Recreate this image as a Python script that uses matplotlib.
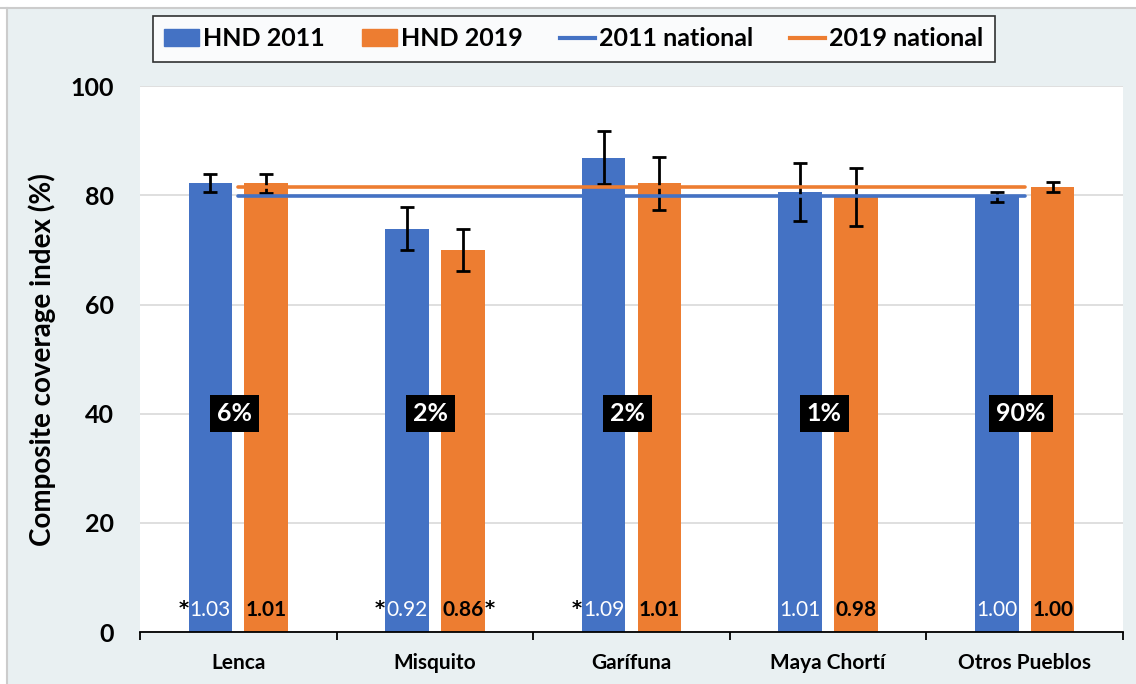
import matplotlib
matplotlib.use('Agg')
import matplotlib.pyplot as plt
import matplotlib.patches as patches
from matplotlib.lines import Line2D
import numpy as np

# Data
groups = ['Lenca', 'Misquito', 'Garífuna', 'Maya Chortí', 'Otros Pueblos']
cci_2011 = [82.3, 73.9, 86.9, 80.6, 79.7]
err_2011 = [1.7, 3.9, 4.9, 5.3, 0.85]
cci_2019 = [82.2, 70.0, 82.2, 79.7, 81.6]
err_2019 = [1.7, 3.9, 4.9, 5.3, 0.9]
national_2011 = 79.8
national_2019 = 81.5
pop_share = ['6%', '2%', '2%', '1%', '90%']
ratio_2011 = ['1.03', '0.92', '1.09', '1.01', '1.00']
ratio_2019 = ['1.01', '0.86', '1.01', '0.98', '1.00']
sig_2011 = [True, True, True, False, False]
sig_2019 = [False, True, False, False, False]

blue = '#4472C4'
orange = '#ED7D31'
font = ['Lato', 'DejaVu Sans']
plt.rcParams['font.family'] = font

fig = plt.figure(figsize=(11.36, 6.84), dpi=100)
fig.patch.set_facecolor('#E9F0F2')
# white frame strips at top/left like the original screenshot
fig.patches.append(patches.Rectangle((0, 0.99), 1, 0.01, transform=fig.transFigure,
                                     facecolor='white', edgecolor='none'))
fig.patches.append(patches.Rectangle((0, 0), 0.006, 1, transform=fig.transFigure,
                                     facecolor='white', edgecolor='none'))
fig.add_artist(Line2D([0, 1], [0.989, 0.989], transform=fig.transFigure, color='#CCCCCC', lw=1.5))
fig.add_artist(Line2D([0.0065, 0.0065], [0, 0.989], transform=fig.transFigure, color='#CCCCCC', lw=1.5))

ax = fig.add_axes([0.1232, 0.076, 0.8654, 0.798])
ax.set_facecolor('white')

x = np.arange(len(groups))
w = 0.221
off = 0.142

ax.bar(x - off, cci_2011, w, color=blue, zorder=2)
ax.bar(x + off, cci_2019, w, color=orange, zorder=2)
ax.errorbar(x - off, cci_2011, yerr=err_2011, fmt='none', ecolor='black',
            elinewidth=2, capsize=5, capthick=2, zorder=3)
ax.errorbar(x + off, cci_2019, yerr=err_2019, fmt='none', ecolor='black',
            elinewidth=2, capsize=5, capthick=2, zorder=3)

ax.plot([x[0], x[-1]], [national_2011, national_2011], color=blue, lw=2.6, zorder=4,
        solid_capstyle='round')
ax.plot([x[0], x[-1]], [national_2019, national_2019], color=orange, lw=2.6, zorder=4,
        solid_capstyle='round')

# population share boxes
for i, s in enumerate(pop_share):
    ax.text(x[i] - 0.02, 40, s, ha='center', va='center', color='white', fontsize=18,
            fontweight='bold', zorder=5,
            bbox=dict(facecolor='black', edgecolor='none', pad=5))

# ratio labels at the bottom of bars
for i in range(len(groups)):
    ax.text(x[i] - off, 4, ratio_2011[i], ha='center', va='center', color='white',
            fontsize=15, zorder=5)
    ax.text(x[i] + off, 4, ratio_2019[i], ha='center', va='center', color='black',
            fontsize=15, fontweight='bold', zorder=5)
    if sig_2011[i]:
        ax.text(x[i] - off - w / 2, 4.3, '*', ha='right', va='center', color='black',
                fontsize=14, fontweight='bold', family='DejaVu Sans', zorder=5)
    if sig_2019[i]:
        ax.text(x[i] + off + w / 2, 4.3, '*', ha='left', va='center', color='black',
                fontsize=14, fontweight='bold', family='DejaVu Sans', zorder=5)

ax.set_xlim(-0.5, len(groups) - 0.5)
ax.set_ylim(0, 100)
ax.set_yticks([0, 20, 40, 60, 80, 100])
ax.yaxis.grid(True, color='#D9D9D9', lw=1.2, zorder=0)
ax.set_axisbelow(True)
for side in ['left', 'right', 'top']:
    ax.spines[side].set_visible(False)
ax.spines['bottom'].set_linewidth(1.3)

ax.set_xticks(x)
ax.set_xticklabels(groups, fontsize=15, fontweight='bold')
ax.set_xticks(np.arange(-0.5, len(groups), 1.0), minor=True)
ax.tick_params(axis='x', which='major', length=0, pad=15)
ax.tick_params(axis='x', which='minor', length=6, width=1.3, direction='out')
ax.tick_params(axis='y', length=0, pad=19, labelsize=18)
for lab in ax.get_yticklabels():
    lab.set_fontweight('bold')
ax.set_ylabel('Composite coverage index (%)', fontsize=20, fontweight='bold', labelpad=10)

handles = [patches.Patch(color=blue), patches.Patch(color=orange),
           Line2D([], [], color=blue, lw=3), Line2D([], [], color=orange, lw=3)]
labels = ['HND 2011', 'HND 2019', '2011 national', '2019 national']
leg = fig.legend(handles, labels, loc='center', bbox_to_anchor=(0.505, 0.943), ncol=4,
                 frameon=True, fancybox=False, edgecolor='black', handlelength=1.4,
                 handletextpad=0.15, columnspacing=1.5, borderpad=0.45,
                 prop=dict(weight='bold', size=18))
leg.get_frame().set_linewidth(1.2)

fig.savefig('out.png', dpi=100, facecolor=fig.get_facecolor())
